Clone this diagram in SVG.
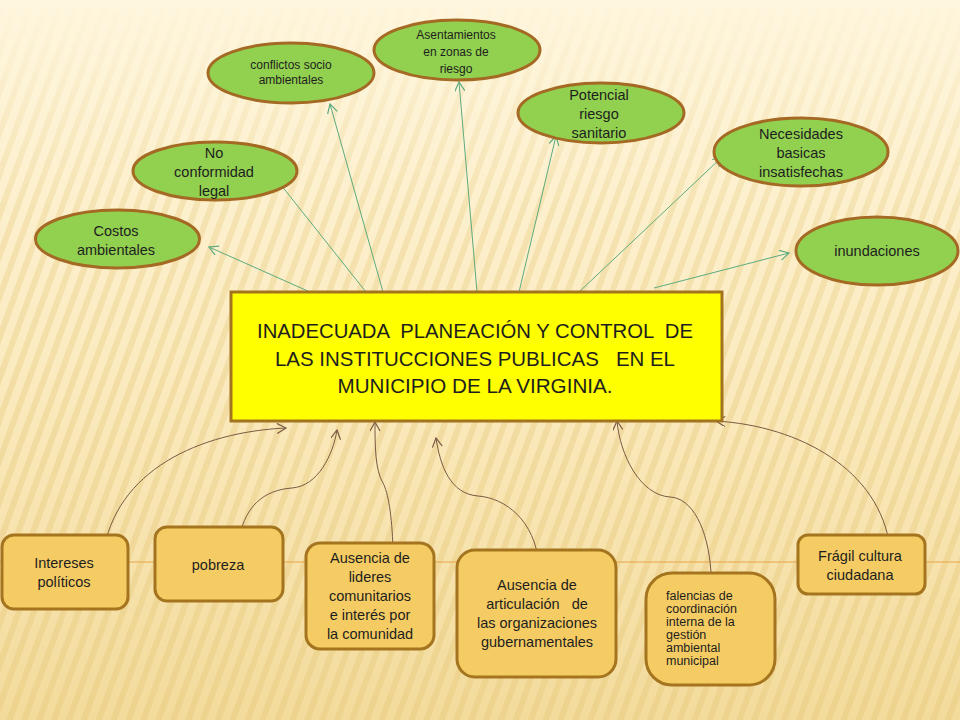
<svg xmlns="http://www.w3.org/2000/svg" width="960" height="720" viewBox="0 0 960 720">
<defs>
  <linearGradient id="bg" x1="0" y1="0" x2="0" y2="1">
    <stop offset="0" stop-color="#FEF6DE"/>
    <stop offset="0.5" stop-color="#FBEBC0"/>
    <stop offset="1" stop-color="#F3DB9C"/>
  </linearGradient>
  <pattern id="stripes" width="14" height="14" patternUnits="userSpaceOnUse" patternTransform="rotate(20)">
    <rect width="6" height="14" fill="#E8CB80"/>
  </pattern>
  <linearGradient id="fade" x1="0" y1="0" x2="0" y2="1">
    <stop offset="0" stop-color="#fff" stop-opacity="0"/>
    <stop offset="0.3" stop-color="#fff" stop-opacity="0.35"/>
    <stop offset="1" stop-color="#fff" stop-opacity="0.5"/>
  </linearGradient>
  <mask id="m"><rect width="960" height="720" fill="url(#fade)"/></mask>
  <marker id="ga" markerWidth="12" markerHeight="12" refX="10" refY="5" orient="auto" markerUnits="userSpaceOnUse">
    <path d="M1,0 L10,5 L1,10" fill="none" stroke="#5DAA7E" stroke-width="1.2"/>
  </marker>
  <marker id="ba" markerWidth="12" markerHeight="12" refX="10" refY="5" orient="auto" markerUnits="userSpaceOnUse">
    <path d="M1,0 L10,5 L1,10" fill="none" stroke="#7A5A44" stroke-width="1.2"/>
  </marker>
</defs>
<style>
  .ell { fill:#92D050; stroke:#A46A24; stroke-width:3; }
  .box { fill:#F5CC63; stroke:#A5741F; stroke-width:3; }
  .t { font-family:"Liberation Sans", Arial, sans-serif; fill:#1E1E1E; text-anchor:middle; }
  .s13 { font-size:14.5px; }
  .s11 { font-size:12px; }
  .g { fill:none; stroke:#5DAA7E; stroke-width:1; marker-end:url(#ga); }
  .b { fill:none; stroke:#7A5A44; stroke-width:1; marker-end:url(#ba); }
</style>
<rect width="960" height="720" fill="url(#bg)"/>
<rect width="960" height="720" fill="url(#stripes)" mask="url(#m)"/>
<line x1="0" y1="562" x2="960" y2="562" stroke="#E8A448" stroke-width="1.2"/>

<g id="connectors">
  <line class="g" x1="310" y1="292" x2="209" y2="247"/>
  <line class="g" x1="366" y1="292" x2="277" y2="180"/>
  <line class="g" x1="383" y1="292" x2="330" y2="104"/>
  <line class="g" x1="477" y1="292" x2="459" y2="82"/>
  <line class="g" x1="519" y1="292" x2="556" y2="136"/>
  <line class="g" x1="579" y1="292" x2="722" y2="157"/>
  <line class="g" x1="654" y1="288" x2="789" y2="253"/>
  <path class="b" d="M103,555 C115,470 200,432 286,428"/>
  <path class="b" d="M238,548 C242,505 265,490 292,488 C318,486 333,455 337,430"/>
  <path class="b" d="M393,549 C392,515 388,492 383,483 C375,470 375,445 375,422"/>
  <path class="b" d="M539,565 C535,520 505,498 478,496 C450,494 440,465 436,438"/>
  <path class="b" d="M711,572 C708,528 692,498 670,497 C640,495 620,455 617,421"/>
  <path class="b" d="M890,548 C880,470 800,426 716,421"/>
</g>

<g id="center">
  <rect x="231" y="292" width="491" height="129" fill="#FFFF00" stroke="#A3741E" stroke-width="3"/>
  <text class="t" font-size="21" xml:space="preserve" lengthAdjust="spacingAndGlyphs"><tspan x="475" y="338" textLength="436" lengthAdjust="spacingAndGlyphs">INADECUADA  PLANEACIÓN Y CONTROL  DE</tspan><tspan x="475" y="366" textLength="400" lengthAdjust="spacingAndGlyphs">LAS INSTITUCCIONES PUBLICAS   EN EL</tspan><tspan x="475" y="393" textLength="275" lengthAdjust="spacingAndGlyphs">MUNICIPIO DE LA VIRGINIA.</tspan></text>
</g>

<g id="costos">
  <ellipse class="ell" cx="117.5" cy="239" rx="82" ry="29"/>
  <text class="t s13"><tspan x="116" y="236">Costos</tspan><tspan x="116" y="255">ambientales</tspan></text>
</g>
<g id="noconformidad">
  <ellipse class="ell" cx="215" cy="171" rx="82" ry="29"/>
  <text class="t s13"><tspan x="214" y="158">No</tspan><tspan x="214" y="177">conformidad</tspan><tspan x="214" y="196">legal</tspan></text>
</g>
<g id="conflictos">
  <ellipse class="ell" cx="291" cy="73" rx="83" ry="30"/>
  <text class="t s11"><tspan x="291" y="69">conflictos socio</tspan><tspan x="291" y="84">ambientales</tspan></text>
</g>
<g id="asentamientos">
  <ellipse class="ell" cx="457" cy="50" rx="83" ry="30"/>
  <text class="t s11"><tspan x="456" y="39">Asentamientos</tspan><tspan x="456" y="56">en zonas de</tspan><tspan x="456" y="73">riesgo</tspan></text>
</g>
<g id="potencial">
  <ellipse class="ell" cx="601" cy="113" rx="83" ry="30"/>
  <text class="t s13"><tspan x="599" y="100">Potencial</tspan><tspan x="599" y="119">riesgo</tspan><tspan x="599" y="138">sanitario</tspan></text>
</g>
<g id="necesidades">
  <ellipse class="ell" cx="801" cy="152" rx="87" ry="34"/>
  <text class="t s13"><tspan x="801" y="139">Necesidades</tspan><tspan x="801" y="158">basicas</tspan><tspan x="801" y="177">insatisfechas</tspan></text>
</g>
<g id="inundaciones">
  <ellipse class="ell" cx="877" cy="251" rx="81" ry="34"/>
  <text class="t s13" x="877" y="256">inundaciones</text>
</g>

<g id="intereses">
  <rect class="box" x="2" y="535" width="126" height="74" rx="12"/>
  <text class="t s13"><tspan x="64" y="568">Intereses</tspan><tspan x="64" y="587">políticos</tspan></text>
</g>
<g id="pobreza">
  <rect class="box" x="155" y="527" width="128" height="74" rx="12"/>
  <text class="t s13" x="218" y="570">pobreza</text>
</g>
<g id="lideres">
  <rect class="box" x="306" y="543" width="128" height="106" rx="14"/>
  <text class="t s13"><tspan x="370" y="563">Ausencia de</tspan><tspan x="370" y="582">lideres</tspan><tspan x="370" y="601">comunitarios</tspan><tspan x="370" y="620">e interés por</tspan><tspan x="370" y="639">la comunidad</tspan></text>
</g>
<g id="articulacion">
  <rect class="box" x="457" y="550" width="159" height="127" rx="18"/>
  <text class="t s13" xml:space="preserve"><tspan x="537" y="590">Ausencia de</tspan><tspan x="537" y="609">articulación   de</tspan><tspan x="537" y="628">las organizaciones</tspan><tspan x="537" y="647">gubernamentales</tspan></text>
</g>
<g id="falencias">
  <rect class="box" x="646" y="573" width="129" height="112" rx="26"/>
  <text font-family="'Liberation Sans', Arial, sans-serif" font-size="12.5" fill="#1E1E1E"><tspan x="666" y="600">falencias de</tspan><tspan x="666" y="613">coordinación</tspan><tspan x="666" y="626">interna de la</tspan><tspan x="666" y="639">gestión</tspan><tspan x="666" y="652">ambiental</tspan><tspan x="666" y="665">municipal</tspan></text>
</g>
<g id="fragil">
  <rect class="box" x="798" y="535" width="127" height="59" rx="10"/>
  <text class="t s13"><tspan x="860" y="561">Frágil cultura</tspan><tspan x="860" y="580">ciudadana</tspan></text>
</g>
</svg>
